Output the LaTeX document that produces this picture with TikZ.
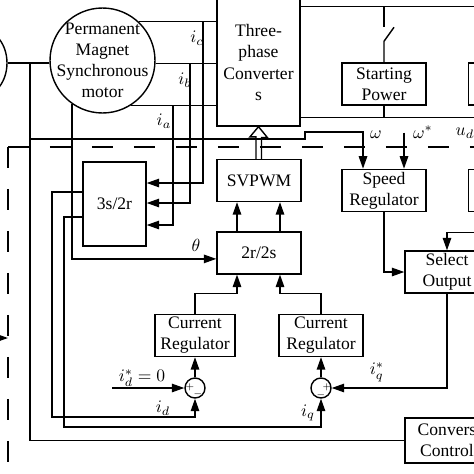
\documentclass[tikz,border=0pt]{standalone}
\usepackage{fontspec}
\setmainfont{Liberation Serif}
\usetikzlibrary{
  positioning,
  arrows.meta,
  shapes.geometric,
  calc
}

\begin{document}
\begin{tikzpicture}[
  x=0.02cm, y=-0.02cm,
  font=\fontsize{10}{12}\selectfont,
  line width=0.8pt,
  blk/.style={
    rectangle,
    draw,
    minimum width=1.68cm,
    minimum height=0.84cm,
    inner sep=1pt,
    align=center
  },
  sumnode/.style={
    circle,
    draw,
    minimum size=0.4cm,
    inner sep=0pt
  },
  sgn/.style={font=\tiny, inner sep=0pt},
  lbl/.style={inner sep=0pt},
  arrow/.style={-{Triangle[length=2.5mm, width=1.7mm]}},
  bus/.style={dash pattern=on 0.42cm off 0.42cm, line width=1.3pt}
]
\useasboundingbox (0,0) rectangle (474,474);
\clip (0,0) rectangle (474,474);

% Machines and converter
\node[ellipse, draw, minimum width=1.0cm, minimum height=1.32cm] (eng) at (-18,63) {};
\node[circle, draw, minimum size=2.1cm, inner sep=0pt] (mot) at (102.5,60.5) {};
\node[align=center] at (mot.center) {Permanent\\Magnet\\Synchronous\\motor};
\node[blk, minimum width=1.66cm, minimum height=2.54cm] (conv) at (258.5,62.5) {Three-\\phase\\Converter\\s};

% Power side and outer loop
\node[blk] (stp) at (384,84) {Starting\\Power};
\node[blk, right=0.82cm of stp] (rpw) {};
\node[blk, below=1.26cm of stp] (spd) {Speed\\Regulator};
\node[blk, right=0.82cm of spd] (rsp) {};
\node[blk] (sel) at (447,272) {Select\\Output};
\node[blk, minimum height=0.9cm] (cvc) at (447,440.5) {Convers\\Control};

% Inner loop
\node[blk] (svp) at (259,180.5) {SVPWM};
\node[blk, below=0.58cm of svp] (tr) {2r/2s};
\node[blk, minimum width=1.26cm, minimum height=1.68cm] (ts) at (114.5,204) {3s/2r};
\node[blk, minimum width=1.6cm] (cd) at (195,335.5) {Current\\Regulator};
\node[blk] (cq) at (321,335.5) {Current\\Regulator};
\node[sumnode] (sd) at (195,388) {};
\node[sumnode] (sq) at (321,388) {};
\node[sgn] at ($(sd.center)+(-5,-1)$) {$+$};
\node[sgn] at ($(sd.center)+(3,6)$) {$-$};
\node[sgn] at ($(sq.center)+(6,-1)$) {$+$};
\node[sgn] at ($(sq.center)+(0,7)$) {$-$};

% Named points
\coordinate (enc) at (30,63);
\coordinate (wtap) at (30,139);
\coordinate (bc) at (8,147);
\coordinate (idref) at (112,388);

% Shaft and phase lines
\draw (eng.east) -- (eng.east -| mot.west);
\draw (mot.47) -- (mot.47 -| conv.west);
\draw (mot.-3) -- (mot.-3 -| conv.west);
\draw (mot.-58) -- (mot.-58 -| conv.west);
\draw[arrow] (mot.47 -| 203,0) |- ($(ts.east)+(0,-21)$);
\draw[arrow] (mot.-3 -| 190,0) |- ($(ts.east)+(0,-1)$);
\draw[arrow] (mot.-58 -| 173,0) |- ($(ts.east)+(0,21)$);
\draw[arrow] (mot.-125) |- ($(tr.west)+(0,6)$) node[lbl, pos=0.93, above=4pt] {$\theta$};

% Speed feedback and bus
\draw (enc) |- (cvc.west);
\draw[arrow] (wtap) -| (305,132) -| ($(spd.north)+(-21,0)$);
\draw[arrow] ($(spd.north)+(20,-36)$) -- ($(spd.north)+(20,0)$);
\draw[bus] (bc) -- (480,147);
\draw[bus] (bc) -- (8,480);
\draw[arrow] (-12,338) -- (8,338);

% Power wiring
\draw ($(conv.north east)+(0,8)$) -- ++(180,0);
\draw ($(conv.south east)+(0,-9)$) -- ++(180,0);
\draw (stp.north) -- ++(0,-21) -- ++(10,-14);
\draw (stp.north |- 0,7) -- ++(0,20);
\draw (stp.south) -- ++(0,12);

% Outer loop connections
\draw[arrow] (spd.south) |- (sel.west);
\draw[arrow] (rsp.south) |- ($(sel.north)+(0,-18)$) -- (sel.north);
\draw[arrow] (sel.south) |- (sq.east);

% Current loops
\draw[arrow] ($(ts.west)+(0,-12)$) -| (52,417) -| (sd.south);
\draw[arrow] ($(ts.west)+(0,13)$) -| (64,427) -| (sq.south);
\draw[arrow] (idref) -- (sd.west);
\draw[arrow] (sd.north) -- (cd.south);
\draw[arrow] (sq.north) -- (cq.south);
\draw[arrow] (cd.north) |- ($(tr.south)+(-22,19)$) -- ($(tr.south)+(-22,0)$);
\draw[arrow] (cq.north) |- ($(tr.south)+(21,19)$) -- ($(tr.south)+(21,0)$);
\draw[arrow] ($(tr.north)+(-22,0)$) -- ($(svp.south)+(-22,0)$);
\draw[arrow] ($(tr.north)+(21,0)$) -- ($(svp.south)+(21,0)$);
\draw ($(svp.north)+(-3,0)$) -- ++(0,-22) -- ++(-6,0) -- (conv.south) -- ++(9,11) -- ++(-6,0) -- ++(0,22);

% Signal labels
\node[lbl] at (197,38) {$i_c$};
\node[lbl] at (185,80) {$i_b$};
\node[lbl] at (164,121) {$i_a$};
\node[lbl] at (376,135) {$\omega$};
\node[lbl] at (423,132) {$\omega^*$};
\node[lbl] at (468,133) {$u_{dc}$};
\node[lbl] at (142,378) {$i_d^*=0$};
\node[lbl] at (163,408) {$i_d$};
\node[lbl] at (377,372) {$i_q^*$};
\node[lbl] at (308,413) {$i_q$};

\end{tikzpicture}
\end{document}
